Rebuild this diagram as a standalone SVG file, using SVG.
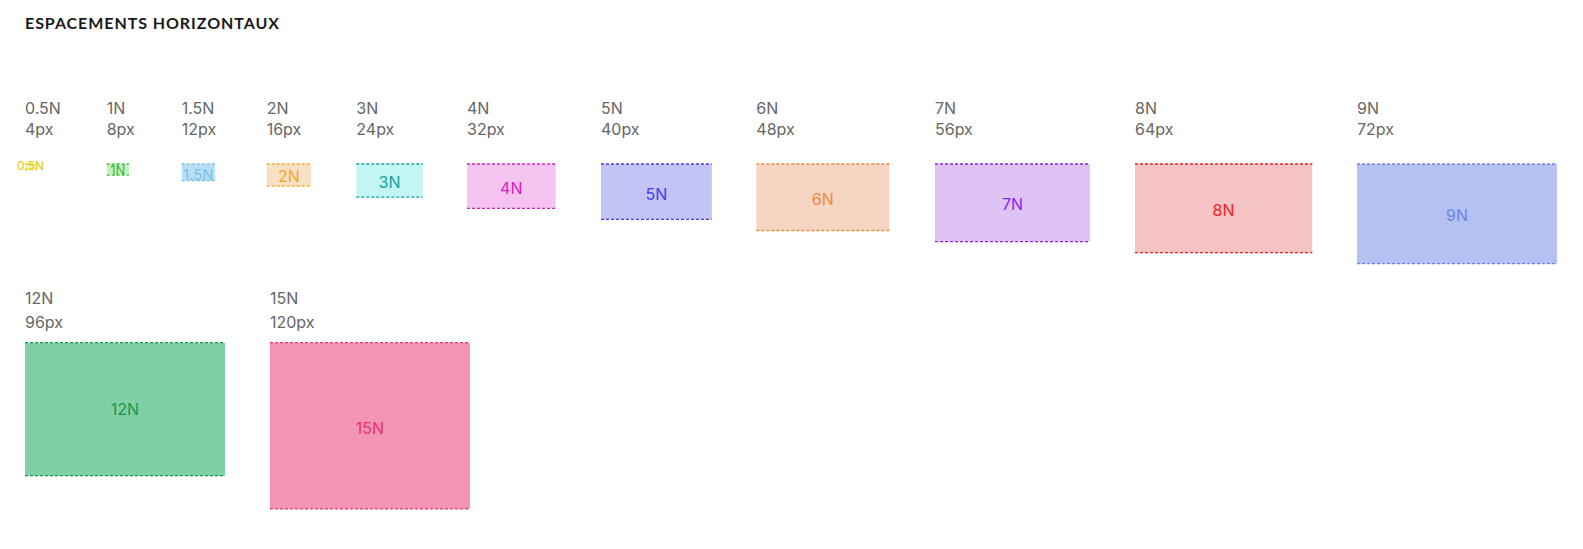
<svg xmlns="http://www.w3.org/2000/svg" width="1583" height="549" viewBox="0 0 1583 549">
<style>
  .title{font-family:Lato,"Liberation Sans",sans-serif;font-weight:700;font-size:16px;fill:#1a1a1a}
  .lbl{font-family:Inter,"Liberation Sans",sans-serif;font-size:16px;fill:#666666}
  .in{font-family:Inter,"Liberation Sans",sans-serif;font-size:16px;text-anchor:middle}
  .dash{stroke-width:1.3;stroke-dasharray:3 2;fill:none}
</style>
<rect width="1583" height="549" fill="#ffffff"/>
<text class="title" x="25" y="29" textLength="254" lengthAdjust="spacing">ESPACEMENTS HORIZONTAUX</text>

<g id="n05">
  <text class="lbl" x="25" y="114">0.5N</text><text class="lbl" x="25" y="135">4px</text>
  <rect x="25" y="164" width="11" height="5.5" fill="#fbf2b5"/>
  <line class="dash" x1="25" y1="164" x2="36" y2="164" stroke="#f0d000"/>
  <line class="dash" x1="25" y1="169.5" x2="36" y2="169.5" stroke="#f0d000"/>
  <text class="in" x="30.5" y="170" style="font-size:12px" fill="#e8c800">0.5N</text>
</g>
<g id="n1">
  <text class="lbl" x="106.7" y="114">1N</text><text class="lbl" x="106.7" y="135">8px</text>
  <rect x="106.7" y="164" width="22.2" height="11.1" fill="#c9f0c2"/>
  <line class="dash" x1="106.7" y1="164" x2="128.9" y2="164" stroke="#3cc43c"/>
  <line class="dash" x1="106.7" y1="175.1" x2="128.9" y2="175.1" stroke="#3cc43c"/>
  <text class="in" x="117.8" y="174.5" style="font-size:13px" fill="#3cb83c">1N</text>
</g>
<g id="n15">
  <text class="lbl" x="181.7" y="114">1.5N</text><text class="lbl" x="181.7" y="135">12px</text>
  <rect x="181.7" y="164" width="33.2" height="16.6" fill="#b8e0f5"/>
  <line class="dash" x1="181.7" y1="164" x2="214.9" y2="164" stroke="#7cc0e8"/>
  <line class="dash" x1="181.7" y1="180.6" x2="214.9" y2="180.6" stroke="#7cc0e8"/>
  <text class="in" x="198.3" y="179.5" style="font-size:15px" fill="#7cc0e8">1.5N</text>
</g>
<g id="n2">
  <text class="lbl" x="266.7" y="114">2N</text><text class="lbl" x="266.7" y="135">16px</text>
  <rect x="266.7" y="164" width="44.3" height="22.2" fill="#f7e1c4"/>
  <line class="dash" x1="266.7" y1="164" x2="311" y2="164" stroke="#f5a623"/>
  <line class="dash" x1="266.7" y1="186.2" x2="311" y2="186.2" stroke="#f5a623"/>
  <text class="in" x="288.9" y="182" fill="#f5a623">2N</text>
</g>
<g id="n3">
  <text class="lbl" x="356.3" y="114">3N</text><text class="lbl" x="356.3" y="135">24px</text>
  <rect x="356.3" y="164" width="66.5" height="33.2" fill="#c2f5f3"/>
  <line class="dash" x1="356.3" y1="164" x2="422.8" y2="164" stroke="#14a39a"/>
  <line class="dash" x1="356.3" y1="197.2" x2="422.8" y2="197.2" stroke="#14a39a"/>
  <text class="in" x="389.5" y="187.5" fill="#14a39a">3N</text>
</g>
<g id="n4">
  <text class="lbl" x="467" y="114">4N</text><text class="lbl" x="467" y="135">32px</text>
  <rect x="467" y="164" width="88.6" height="44.3" fill="#f5c3ef"/>
  <line class="dash" x1="467" y1="164" x2="555.6" y2="164" stroke="#d21fc3"/>
  <line class="dash" x1="467" y1="208.3" x2="555.6" y2="208.3" stroke="#d21fc3"/>
  <text class="in" x="511.3" y="193.5" fill="#d21fc3">4N</text>
</g>
<g id="n5">
  <text class="lbl" x="601" y="114">5N</text><text class="lbl" x="601" y="135">40px</text>
  <rect x="601" y="164" width="110.8" height="55.4" fill="#c3c3f5"/>
  <line class="dash" x1="601" y1="164" x2="711.8" y2="164" stroke="#4a3bf0"/>
  <line class="dash" x1="601" y1="219.4" x2="711.8" y2="219.4" stroke="#4a3bf0"/>
  <text class="in" x="656.4" y="199.5" fill="#4a3bf0">5N</text>
</g>
<g id="n6">
  <text class="lbl" x="756.3" y="114">6N</text><text class="lbl" x="756.3" y="135">48px</text>
  <rect x="756.3" y="164" width="133" height="66.5" fill="#f6d5c3"/>
  <line class="dash" x1="756.3" y1="164" x2="889.3" y2="164" stroke="#f5883a"/>
  <line class="dash" x1="756.3" y1="230.5" x2="889.3" y2="230.5" stroke="#f5883a"/>
  <text class="in" x="822.8" y="204.5" fill="#f5883a">6N</text>
</g>
<g id="n7">
  <text class="lbl" x="935" y="114">7N</text><text class="lbl" x="935" y="135">56px</text>
  <rect x="935" y="164" width="155" height="77.6" fill="#dfc3f5"/>
  <line class="dash" x1="935" y1="164" x2="1090" y2="164" stroke="#8c1ff0"/>
  <line class="dash" x1="935" y1="241.6" x2="1090" y2="241.6" stroke="#8c1ff0"/>
  <text class="in" x="1012.5" y="210" fill="#8c1ff0">7N</text>
</g>
<g id="n8">
  <text class="lbl" x="1135" y="114">8N</text><text class="lbl" x="1135" y="135">64px</text>
  <rect x="1135" y="164" width="177.3" height="88.6" fill="#f5c3c3"/>
  <line class="dash" x1="1135" y1="164" x2="1312.3" y2="164" stroke="#f01f1f"/>
  <line class="dash" x1="1135" y1="252.6" x2="1312.3" y2="252.6" stroke="#f01f1f"/>
  <text class="in" x="1223.6" y="215.5" fill="#f01f1f">8N</text>
</g>
<g id="n9">
  <text class="lbl" x="1357" y="114">9N</text><text class="lbl" x="1357" y="135">72px</text>
  <rect x="1357" y="164" width="200" height="99.7" fill="#b5c1f2"/>
  <line class="dash" x1="1357" y1="164" x2="1557" y2="164" stroke="#6e82e6"/>
  <line class="dash" x1="1357" y1="263.7" x2="1557" y2="263.7" stroke="#6e82e6"/>
  <text class="in" x="1457" y="221" fill="#6e82e6">9N</text>
</g>
<g id="n12">
  <text class="lbl" x="25" y="304.3">12N</text><text class="lbl" x="25" y="328">96px</text>
  <rect x="25" y="342.7" width="200" height="133" fill="#81cfa6"/>
  <line class="dash" x1="25" y1="342.7" x2="225" y2="342.7" stroke="#0f9a52"/>
  <line class="dash" x1="25" y1="475.7" x2="225" y2="475.7" stroke="#0f9a52"/>
  <text class="in" x="125" y="415" fill="#0f9a52">12N</text>
</g>
<g id="n15N">
  <text class="lbl" x="270" y="304.3">15N</text><text class="lbl" x="270" y="328">120px</text>
  <rect x="270" y="342.7" width="200" height="166.2" fill="#f294b2"/>
  <line class="dash" x1="270" y1="342.7" x2="470" y2="342.7" stroke="#e8336b"/>
  <line class="dash" x1="270" y1="508.9" x2="470" y2="508.9" stroke="#e8336b"/>
  <text class="in" x="370" y="434" fill="#e8336b">15N</text>
</g>
<g id="connectors"/>
</svg>
